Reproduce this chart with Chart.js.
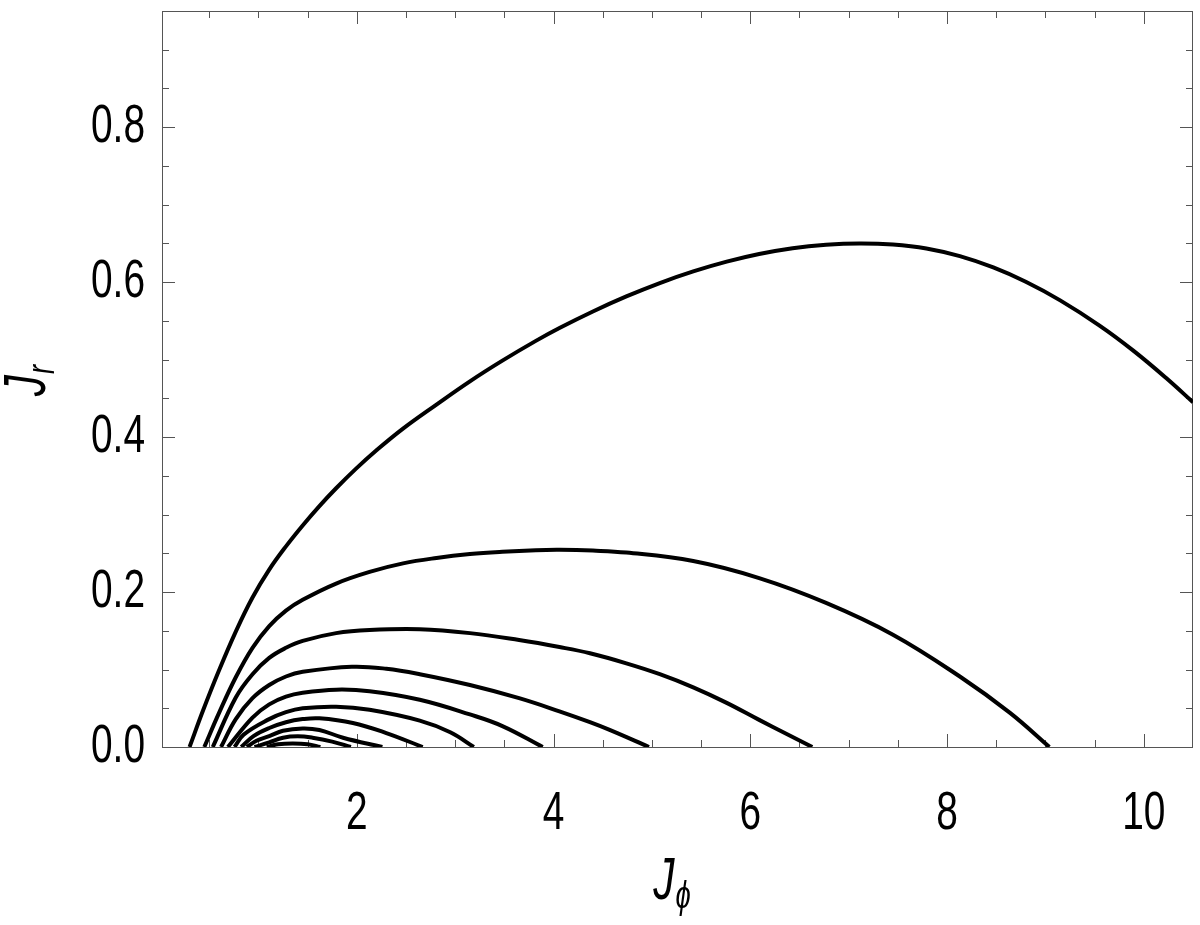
<!DOCTYPE html>
<html>
<head>
<meta charset="utf-8">
<script src="https://cdn.jsdelivr.net/npm/chart.js@4.4.1/dist/chart.umd.min.js"></script>
<style>
  html, body { margin: 0; padding: 0; background: #fff; }
  #plot { display: block; }
</style>
</head>
<body>
<canvas id="plot" width="1200" height="925"></canvas>
<script>
// axis ranges and ticks
const xRange = [0.02, 10.5];
const yRange = [0, 0.95];
const xTickValues = [0.5, 1, 1.5, 2, 2.5, 3, 3.5, 4, 4.5, 5, 5.5, 6, 6.5, 7, 7.5, 8, 8.5, 9, 9.5, 10];
const xMajorTicks = [2, 4, 6, 8, 10];
const xTickLabels = ['2', '4', '6', '8', '10'];
const yTickValues = [0, 0.05, 0.1, 0.15, 0.2, 0.25, 0.3, 0.35, 0.4, 0.45, 0.5, 0.55, 0.6, 0.65, 0.7, 0.75, 0.8, 0.85, 0.9];
const yMajorTicks = [0, 0.2, 0.4, 0.6, 0.8];
const yTickLabels = ['0.0', '0.2', '0.4', '0.6', '0.8'];

// curves, outermost first (J_phi, J_r)
const c1x = [0.30, 0.44, 0.60, 0.77, 0.94, 1.11, 1.28, 1.45, 1.62, 1.79, 1.99, 2.20, 2.47, 2.81, 3.15, 3.48, 3.82, 4.06, 4.40, 4.74, 5.08, 5.42, 5.76, 6.09, 6.43, 6.77, 7.11, 7.45, 7.79, 8.13, 8.47, 8.80, 9.15, 9.55, 9.89, 10.23, 10.50];
const c1y = [0, 0.048, 0.099, 0.149, 0.193, 0.229, 0.259, 0.286, 0.311, 0.334, 0.359, 0.383, 0.411, 0.442, 0.472, 0.4987, 0.5242, 0.5408, 0.5622, 0.5816, 0.5989, 0.6139, 0.6265, 0.6364, 0.6439, 0.6483, 0.650, 0.6486, 0.6435, 0.6336, 0.619, 0.6005, 0.5765, 0.544, 0.512, 0.476, 0.445];

const c2x = [0.45, 0.60, 0.77, 0.94, 1.11, 1.28, 1.45, 1.79, 2.13, 2.47, 2.81, 3.15, 3.48, 3.82, 4.06, 4.40, 4.74, 5.42, 6.09, 6.77, 7.45, 8.13, 8.64, 9.04];
const c2y = [0, 0.044, 0.090, 0.128, 0.156, 0.176, 0.190, 0.211, 0.226, 0.237, 0.244, 0.249, 0.252, 0.254, 0.2545, 0.2535, 0.251, 0.240, 0.218, 0.186, 0.145, 0.091, 0.044, 0];

const c3x = [0.536, 0.77, 0.94, 1.11, 1.28, 1.45, 1.79, 2.13, 2.64, 3.15, 3.65, 4.06, 4.37, 4.74, 5.08, 5.42, 5.76, 6.09, 6.36, 6.63];
const c3y = [0, 0.064, 0.094, 0.115, 0.128, 0.137, 0.147, 0.151, 0.152, 0.147, 0.138, 0.129, 0.121, 0.108, 0.094, 0.077, 0.057, 0.035, 0.0175, 0];

const c4x = [0.62, 0.77, 0.94, 1.11, 1.28, 1.45, 1.95, 2.30, 2.64, 3.15, 3.65, 4.06, 4.37, 4.57, 4.97];
const c4y = [0, 0.036, 0.063, 0.080, 0.091, 0.097, 0.1035, 0.101, 0.094, 0.080, 0.063, 0.046, 0.032, 0.022, 0];

const c5x = [0.69, 0.94, 1.11, 1.28, 1.45, 1.79, 2.13, 2.64, 3.15, 3.48, 3.89];
const c5y = [0, 0.038, 0.055, 0.065, 0.070, 0.074, 0.072, 0.061, 0.042, 0.027, 0];

const c6x = [0.757, 0.85, 1.11, 1.28, 1.45, 1.79, 2.13, 2.64, 2.95, 3.19];
const c6y = [0, 0.016, 0.036, 0.045, 0.050, 0.052, 0.048, 0.034, 0.019, 0];

const c7x = [0.825, 0.95, 1.11, 1.28, 1.45, 1.62, 1.96, 2.30, 2.67];
const c7y = [0, 0.014, 0.0245, 0.032, 0.036, 0.037, 0.031, 0.018, 0];

const c8x = [0.882, 0.98, 1.11, 1.25, 1.45, 1.62, 1.86, 2.26];
const c8y = [0, 0.008, 0.014, 0.021, 0.024, 0.022, 0.012, 0];

const c9x = [0.96, 1.11, 1.25, 1.40, 1.55, 1.75, 1.94];
const c9y = [0, 0.006, 0.012, 0.0138, 0.012, 0.007, 0];

const c10x = [1.085, 1.20, 1.35, 1.50, 1.63];
const c10y = [0, 0.0035, 0.0045, 0.0035, 0];

const curveXs = [c1x, c2x, c3x, c4x, c5x, c6x, c7x, c8x, c9x, c10x];
const curveYs = [c1y, c2y, c3y, c4y, c5y, c6y, c7y, c8y, c9y, c10y];

const family = "'Liberation Sans', Arial, sans-serif";
const squeeze = 0.72; // the original uses a narrow face
const frameColor = '#555';

// frame with inward ticks on all four sides
const frameTicks = {
  id: 'frameTicks',
  beforeDatasetsDraw(chart) {
    const { ctx, chartArea: a, scales: { x, y } } = chart;
    ctx.save();
    ctx.strokeStyle = frameColor;
    ctx.lineWidth = 1;
    ctx.beginPath();
    x.ticks.forEach(t => {
      if (t.value <= x.min || t.value >= x.max) return;
      const px = Math.round(x.getPixelForValue(t.value)) + 0.5;
      const len = xMajorTicks.includes(t.value) ? 13 : 7;
      ctx.moveTo(px, a.bottom); ctx.lineTo(px, a.bottom - len);
      ctx.moveTo(px, a.top); ctx.lineTo(px, a.top + len);
    });
    y.ticks.forEach(t => {
      if (t.value <= y.min || t.value >= y.max) return;
      const py = Math.round(y.getPixelForValue(t.value)) + 0.5;
      const len = yMajorTicks.includes(t.value) ? 13 : 7;
      ctx.moveTo(a.left, py); ctx.lineTo(a.left + len, py);
      ctx.moveTo(a.right, py); ctx.lineTo(a.right - len, py);
    });
    ctx.stroke();
    ctx.strokeRect(Math.round(a.left) + 0.5, Math.round(a.top) + 0.5,
      Math.round(a.right - a.left) - 1, Math.round(a.bottom - a.top));
    ctx.restore();
  }
};

function narrowText(ctx, text, x, y, align) {
  ctx.save();
  ctx.translate(x, y);
  ctx.scale(squeeze, 1);
  ctx.textAlign = align;
  ctx.fillText(text, 0, 0);
  ctx.restore();
}

// tick labels in a condensed look, placed by the scales
const tickLabels = {
  id: 'tickLabels',
  afterDraw(chart) {
    const { ctx, chartArea: a, scales: { x, y } } = chart;
    ctx.save();
    ctx.fillStyle = '#000';
    ctx.font = `54px ${family}`;
    ctx.textBaseline = 'middle';
    xMajorTicks.forEach((v, i) => narrowText(ctx, xTickLabels[i], x.getPixelForValue(v), a.bottom + 67, 'center'));
    yMajorTicks.forEach((v, i) => narrowText(ctx, yTickLabels[i], a.left - 17, y.getPixelForValue(v), 'right'));
    ctx.restore();
  }
};

// J_phi and J_r with subscripts
function subTitle(ctx, main, sub, cx, base) {
  ctx.font = `italic 59px ${family}`;
  const w1 = ctx.measureText(main).width * squeeze;
  ctx.font = `italic 38px ${family}`;
  const w2 = ctx.measureText(sub).width * squeeze;
  const start = cx - (w1 + w2) / 2;
  ctx.font = `italic 59px ${family}`;
  narrowText(ctx, main, start, base, 'left');
  ctx.font = `italic 38px ${family}`;
  narrowText(ctx, sub, start + w1 + 1, base + 9, 'left');
}

const axisTitles = {
  id: 'axisTitles',
  afterDraw(chart) {
    const { ctx, chartArea: a } = chart;
    ctx.save();
    ctx.fillStyle = '#000';
    ctx.textBaseline = 'alphabetic';
    subTitle(ctx, 'J', '\u03d5', (a.left + a.right) / 2 - 6, 899);
    ctx.translate(45, (a.top + a.bottom) / 2 + 2);
    ctx.rotate(-Math.PI / 2);
    subTitle(ctx, 'J', 'r', 0, 0);
    ctx.restore();
  }
};

const datasets = curveXs.map((xs, i) => ({
  data: xs.map((v, k) => ({ x: v, y: curveYs[i][k] })),
  borderColor: '#000',
  borderWidth: 4,
  borderJoinStyle: 'round',
  pointRadius: 0,
  showLine: true,
  fill: false,
  tension: 0.4,
}));

new Chart(document.getElementById('plot'), {
  type: 'scatter',
  data: { datasets },
  options: {
    responsive: false,
    animation: false,
    devicePixelRatio: 1,
    layout: { padding: { top: 11, right: 7, left: 0, bottom: 0 } },
    plugins: { legend: { display: false }, tooltip: { enabled: false } },
    scales: {
      x: {
        type: 'linear',
        min: xRange[0],
        max: xRange[1],
        afterBuildTicks: (s) => { s.ticks = xTickValues.map(v => ({ value: v })); },
        afterFit: (s) => { s.height = 178; s.paddingLeft = 0; s.paddingRight = 0; },
        grid: { display: false, drawTicks: false },
        border: { display: false },
        ticks: { display: false },
      },
      y: {
        type: 'linear',
        min: yRange[0],
        max: yRange[1],
        afterBuildTicks: (s) => { s.ticks = yTickValues.map(v => ({ value: v })); },
        afterFit: (s) => { s.width = 162; s.paddingTop = 0; s.paddingBottom = 0; },
        grid: { display: false, drawTicks: false },
        border: { display: false },
        ticks: { display: false },
      },
    },
  },
  plugins: [frameTicks, tickLabels, axisTitles],
});
</script>
</body>
</html>
